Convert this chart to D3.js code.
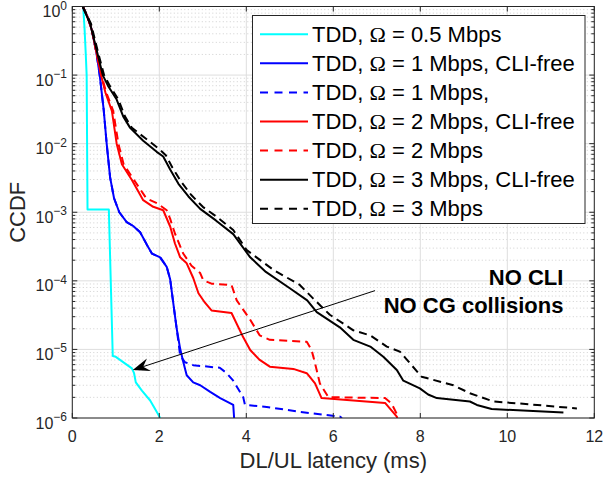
<!DOCTYPE html>
<html><head><meta charset="utf-8">
<script src="https://cdn.jsdelivr.net/npm/d3@7"></script>
<style>body{margin:0;background:#fff}svg{display:block}text{font-family:"Liberation Sans",Arial,sans-serif}</style>
</head><body><svg id="c" width="603" height="479"></svg>
<script>
// ---- data (latency in ms, CCDF) ----
const xTickValues = [0, 2, 4, 6, 8, 10, 12];
const yTickExponents = [0, -1, -2, -3, -4, -5, -6];
const xLabel = "DL/UL latency (ms)";
const yLabel = "CCDF";

const tdd05 = [[0.25,1],[0.28,0.5],[0.31,0.2],[0.33,0.1],[0.34,0.01],[0.35,1.1e-3],[0.84,1.1e-3],[0.93,8e-6],[1.0,7.8e-6],[1.37,5.3e-6],[1.42,4.5e-6],[1.46,3.3e-6],[1.6,2.5e-6],[1.79,1.8e-6],[1.95,1.2e-6],[2.02,1e-6]];
const tdd1Free = [[0.24,1],[0.35,0.71],[0.45,0.45],[0.55,0.22],[0.63,0.1],[0.72,0.032],[0.79,0.01],[0.87,3.2e-3],[0.96,1.6e-3],[1.08,1e-3],[1.25,7.2e-4],[1.40,6.3e-4],[1.56,5.1e-4],[1.71,3.4e-4],[1.83,2.5e-4],[2.02,2.2e-4],[2.17,1.6e-4],[2.25,1.05e-4],[2.32,4.8e-5],[2.40,2.0e-5],[2.48,1.02e-5],[2.55,6.6e-6],[2.63,4.2e-6],[2.78,3.3e-6],[2.94,3.0e-6],[3.17,2.4e-6],[3.40,1.95e-6],[3.70,1.55e-6],[3.72,1e-6]];
const tdd1 = [[0.24,1],[0.35,0.71],[0.45,0.45],[0.55,0.22],[0.63,0.1],[0.72,0.032],[0.79,0.01],[0.87,3.2e-3],[0.96,1.6e-3],[1.08,1e-3],[1.25,7.2e-4],[1.40,6.3e-4],[1.56,5.1e-4],[1.71,3.4e-4],[1.83,2.5e-4],[2.02,2.2e-4],[2.17,1.6e-4],[2.25,1.05e-4],[2.32,4.8e-5],[2.40,2.0e-5],[2.48,8.1e-6],[2.59,6.5e-6],[2.78,5.9e-6],[2.94,5.75e-6],[3.39,5.4e-6],[3.55,4.5e-6],[3.70,3.5e-6],[3.93,2.0e-6],[3.97,1.55e-6],[4.47,1.45e-6],[5.23,1.23e-6],[6.15,1.05e-6],[6.2,1e-6]];
const tdd2Free = [[0.24,1],[0.35,0.71],[0.45,0.45],[0.55,0.22],[0.66,0.1],[0.76,0.056],[0.91,0.030],[1.02,0.01],[1.14,5e-3],[1.37,2.95e-3],[1.63,1.5e-3],[1.86,1.2e-3],[2.09,1.07e-3],[2.25,6.2e-4],[2.36,3.5e-4],[2.48,2.2e-4],[2.63,1.8e-4],[2.78,1.1e-4],[2.90,6.6e-5],[3.05,4.8e-5],[3.20,3.7e-5],[3.66,3.4e-5],[3.93,1.5e-5],[4.09,9.8e-6],[4.30,7.1e-6],[4.54,5.6e-6],[5.08,5.2e-6],[5.39,4.5e-6],[5.58,3.2e-6],[5.73,1.95e-6],[7.19,1.66e-6],[7.46,1.05e-6],[7.47,1e-6]];
const tdd2 = [[0.24,1],[0.35,0.71],[0.45,0.45],[0.55,0.22],[0.67,0.1],[0.78,0.056],[0.94,0.030],[1.06,0.01],[1.18,5e-3],[1.42,2.95e-3],[1.70,1.6e-3],[1.95,1.35e-3],[2.17,1.07e-3],[2.25,8e-4],[2.36,4.9e-4],[2.55,2.5e-4],[2.74,1.66e-4],[2.94,1.3e-4],[3.01,1.02e-4],[3.20,9.1e-5],[3.66,8.7e-5],[3.78,5.2e-5],[4.09,2.7e-5],[4.31,1.6e-5],[4.54,1.38e-5],[5.39,1.29e-5],[5.50,9.8e-6],[5.58,6.3e-6],[5.69,3.2e-6],[5.89,2.0e-6],[6.15,2.0e-6],[7.19,1.95e-6],[7.34,1.62e-6],[7.49,1.05e-6],[7.50,1e-6]];
const tdd3Free = [[0.24,1],[0.41,0.56],[0.56,0.23],[0.70,0.1],[0.83,0.068],[1.02,0.044],[1.17,0.025],[1.33,0.017],[1.63,0.011],[1.94,7.6e-3],[2.09,6.5e-3],[2.25,4.2e-3],[2.44,2.6e-3],[2.67,1.7e-3],[2.94,1.12e-3],[3.30,7.6e-4],[3.70,4.8e-4],[4.09,2.2e-4],[4.45,1.35e-4],[5.00,7.8e-5],[5.40,5.2e-5],[5.62,3.5e-5],[6.15,2.1e-5],[6.46,1.38e-5],[6.85,1.1e-5],[7.15,7.8e-6],[7.46,5.0e-6],[7.61,3.5e-6],[7.99,2.7e-6],[8.18,2.2e-6],[8.38,1.95e-6],[9.14,1.74e-6],[9.30,1.55e-6],[9.64,1.35e-6],[11.29,1.2e-6]];
const tdd3 = [[0.24,1],[0.43,0.56],[0.58,0.23],[0.73,0.1],[0.87,0.068],[1.06,0.044],[1.21,0.025],[1.37,0.017],[1.68,0.012],[2.0,8.3e-3],[2.15,6.8e-3],[2.3,4.5e-3],[2.5,2.8e-3],[2.73,1.8e-3],[3.0,1.2e-3],[3.35,8.3e-4],[3.70,5.5e-4],[4.01,2.8e-4],[4.62,1.45e-4],[5.23,8.7e-5],[5.54,5.5e-5],[5.92,3.2e-5],[6.46,1.9e-5],[6.85,1.6e-5],[7.23,1.1e-5],[7.53,9.3e-6],[7.69,7.1e-6],[8.03,4.0e-6],[8.76,3.0e-6],[9.14,2.3e-6],[9.68,1.74e-6],[10.52,1.58e-6],[11.60,1.38e-6]];

const seriesData = [tdd05, tdd1Free, tdd1, tdd2Free, tdd2, tdd3Free, tdd3];
const seriesRates = ["0.5", "1", "1", "2", "2", "3", "3"];
const seriesSuffix = ["", ", CLI-free", ",", ", CLI-free", "", ", CLI-free", ""];
const seriesColors = ["#00ffff", "#0000ff", "#0000ff", "#ff0000", "#ff0000", "#000000", "#000000"];
const seriesDashed = [false, false, true, false, true, false, true];

const annotationLines = ["NO CLI", "NO CG collisions"];
const annotationTextAt = [[11.29, 1.15e-4], [11.29, 1.0e-4]];
const arrowFrom = [6.96, 7.2e-5];
const arrowTo = [1.39, 5.0e-6];

// ---- layout ----
const svg = d3.select("#c");
const L = 72.3, R = 594.3, T = 6.5, B = 418;
const x = d3.scaleLinear().domain([0, 12]).range([L, R]);
const y = d3.scaleLog().domain([1e-6, 1]).range([B, T]);
const axisColor = "#262626";

// grid
const g = svg.append("g");
const minorVals = [];
yTickExponents.forEach(e => { if (e > -6) for (let m = 2; m <= 9; m++) minorVals.push(m * Math.pow(10, e - 1)); });
g.selectAll(".ymin").data(minorVals).enter().append("line")
  .attr("x1", L).attr("x2", R).attr("y1", d => y(d)).attr("y2", d => y(d))
  .attr("stroke", "#c4c4c4").attr("stroke-width", 0.8).attr("stroke-dasharray", "1,2.5");
g.selectAll(".ymaj").data(yTickExponents).enter().append("line")
  .attr("x1", L).attr("x2", R).attr("y1", d => y(Math.pow(10, d))).attr("y2", d => y(Math.pow(10, d)))
  .attr("stroke", "#dedede").attr("stroke-width", 1);
g.selectAll(".xmaj").data(xTickValues).enter().append("line")
  .attr("y1", T).attr("y2", B).attr("x1", d => x(d)).attr("x2", d => x(d))
  .attr("stroke", "#dedede").attr("stroke-width", 1);

// curves
svg.append("clipPath").attr("id", "clip").append("rect").attr("x", L).attr("y", T - 1).attr("width", R - L).attr("height", B - T + 1);
const line = d3.line().x(d => x(d[0])).y(d => y(d[1]));
const curves = svg.append("g").attr("clip-path", "url(#clip)");
seriesData.forEach((s, i) => {
  curves.append("path").attr("d", line(s)).attr("fill", "none")
    .attr("stroke", seriesColors[i]).attr("stroke-width", 2)
    .attr("stroke-linejoin", "round")
    .attr("stroke-dasharray", seriesDashed[i] ? "8,5" : null);
});

// axes box & ticks
const ax = svg.append("g").attr("stroke", axisColor).attr("fill", "none");
ax.append("rect").attr("x", L).attr("y", T).attr("width", R - L).attr("height", B - T).attr("stroke-width", 1);
xTickValues.forEach(v => {
  ax.append("line").attr("x1", x(v)).attr("x2", x(v)).attr("y1", B).attr("y2", B - 5);
  ax.append("line").attr("x1", x(v)).attr("x2", x(v)).attr("y1", T).attr("y2", T + 5);
});
yTickExponents.forEach(e => {
  const yy = y(Math.pow(10, e));
  ax.append("line").attr("x1", L).attr("x2", L + 5).attr("y1", yy).attr("y2", yy);
  ax.append("line").attr("x1", R).attr("x2", R - 5).attr("y1", yy).attr("y2", yy);
});
minorVals.forEach(v => {
  const yy = y(v);
  ax.append("line").attr("x1", L).attr("x2", L + 3).attr("y1", yy).attr("y2", yy);
  ax.append("line").attr("x1", R).attr("x2", R - 3).attr("y1", yy).attr("y2", yy);
});

// tick labels
svg.selectAll(".xl").data(xTickValues).enter().append("text")
  .attr("x", d => x(d)).attr("y", B + 24).attr("text-anchor", "middle")
  .attr("font-size", 16).attr("fill", axisColor).text(d => d);
yTickExponents.forEach(e => {
  const yy = y(Math.pow(10, e));
  const t = svg.append("text").attr("x", 67).attr("y", yy + 10.5).attr("text-anchor", "end")
    .attr("font-size", 16).attr("fill", axisColor);
  t.append("tspan").text("10");
  t.append("tspan").attr("font-size", 12).attr("dy", -7.5).text(e === 0 ? "0" : "\u2212" + Math.abs(e));
});

// axis labels
svg.append("text").attr("x", (L + R) / 2).attr("y", 468).attr("text-anchor", "middle")
  .attr("font-size", 22).attr("fill", axisColor).text(xLabel);
svg.append("text").attr("transform", `translate(25,${(T + B) / 2}) rotate(-90)`).attr("text-anchor", "middle")
  .attr("font-size", 22).attr("fill", axisColor).text(yLabel);

// annotation arrow
const ax0 = x(arrowFrom[0]), ay0 = y(arrowFrom[1]), ax1 = x(arrowTo[0]), ay1 = y(arrowTo[1]);
const ang = Math.atan2(ay1 - ay0, ax1 - ax0);
const hl = 17, hw = 6.5, back = 11;
const ux = Math.cos(ang), uy = Math.sin(ang), px = -uy, py = ux;
svg.append("line").attr("x1", ax0).attr("y1", ay0).attr("x2", ax1 - ux * back).attr("y2", ay1 - uy * back)
  .attr("stroke", "#000").attr("stroke-width", 1);
svg.append("path").attr("d", `M${ax1},${ay1} L${ax1 - ux * hl + px * hw},${ay1 - uy * hl + py * hw} L${ax1 - ux * back},${ay1 - uy * back} L${ax1 - ux * hl - px * hw},${ay1 - uy * hl - py * hw} Z`)
  .attr("fill", "#000");
svg.append("text").attr("x", x(annotationTextAt[0][0])).attr("y", 285).attr("text-anchor", "end")
  .attr("font-size", 22).attr("font-weight", "bold").attr("fill", "#000").text(annotationLines[0]);
svg.append("text").attr("x", x(annotationTextAt[1][0])).attr("y", 313).attr("text-anchor", "end")
  .attr("font-size", 22).attr("font-weight", "bold").attr("fill", "#000").text(annotationLines[1]);

// legend
const lg = svg.append("g");
const lgX = 252.5, lgY = 15.5, lgW = 332.5, lgH = 208, rowH = 29.1, firstBase = 41.7;
lg.append("rect").attr("x", lgX).attr("y", lgY).attr("width", lgW).attr("height", lgH)
  .attr("fill", "#fff").attr("stroke", axisColor).attr("stroke-width", 1);
seriesData.forEach((s, i) => {
  const base = firstBase + i * rowH;
  lg.append("line").attr("x1", 260).attr("x2", 308).attr("y1", base - 7.5).attr("y2", base - 7.5)
    .attr("stroke", seriesColors[i]).attr("stroke-width", 2)
    .attr("stroke-dasharray", seriesDashed[i] ? "8,6.5" : null);
  const t = lg.append("text").attr("x", 312).attr("y", base).attr("font-size", 22).attr("fill", "#000");
  t.append("tspan").text("TDD, ");
  t.append("tspan").attr("font-family", "'Liberation Serif','Times New Roman',serif").text("\u03A9");
  t.append("tspan").text(" = " + seriesRates[i] + " Mbps" + seriesSuffix[i]);
});
</script></body></html>
